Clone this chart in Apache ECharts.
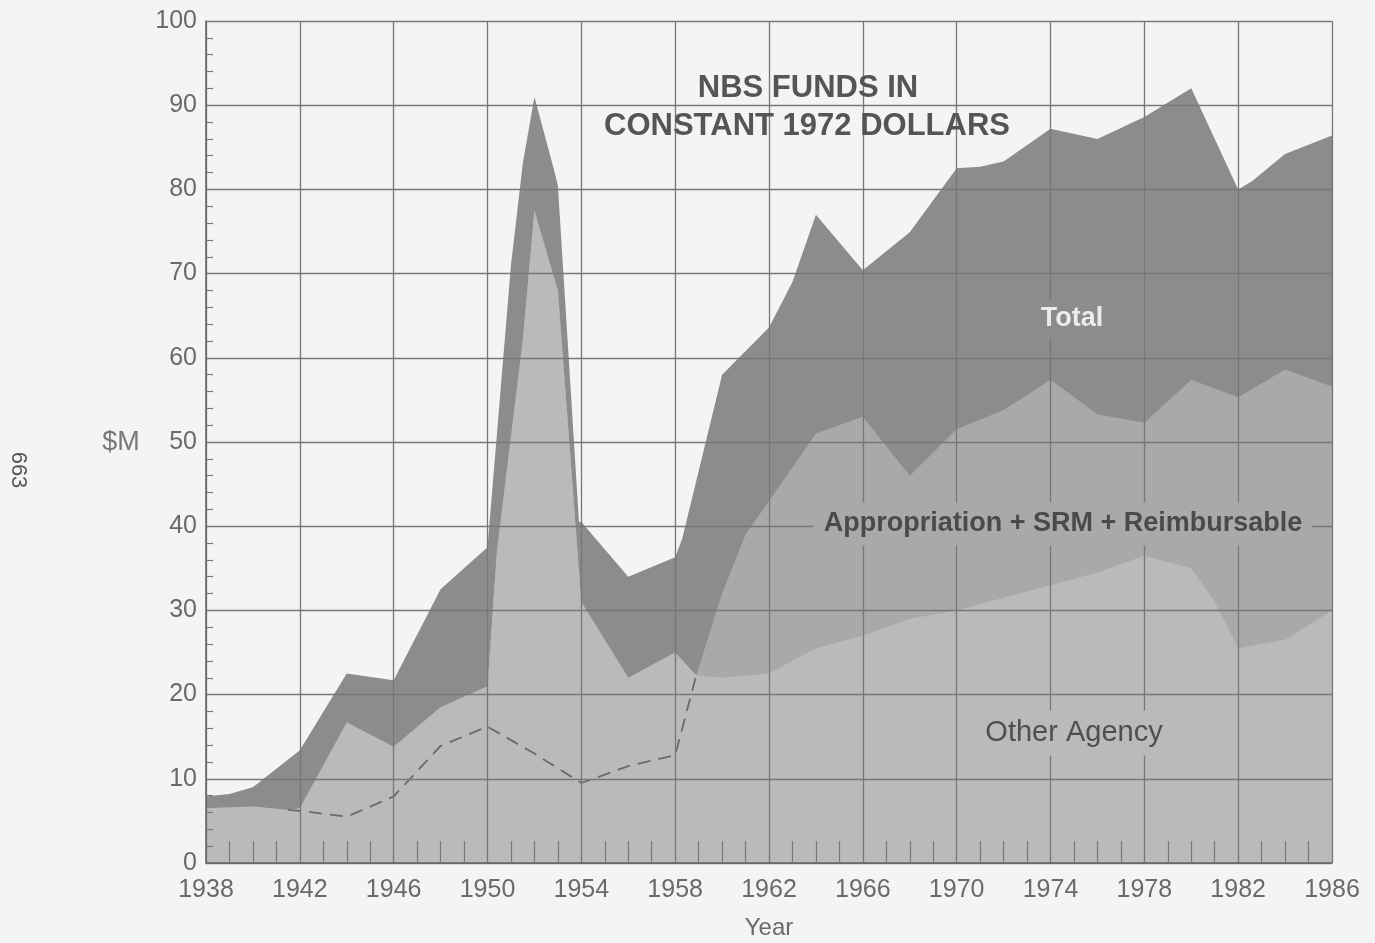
<!DOCTYPE html>
<html>
<head>
<meta charset="utf-8">
<script src="https://cdn.jsdelivr.net/npm/echarts@6/dist/echarts.min.js"></script>
<style>
  html, body { margin: 0; padding: 0; background: #f4f4f4; }
  #chart { width: 1375px; height: 943px; }
</style>
</head>
<body>
<div id="chart"></div>
<script>
// ---------- data ----------
const BASE_YEAR = 1938;
const END_YEAR = 1986;
const X_TICK_LABELS = ['1938','1942','1946','1950','1954','1958','1962','1966','1970','1974','1978','1982','1986'];
const Y_TICK_LABELS = ['0','10','20','30','40','50','60','70','80','90','100'];

// Total (top of dark band)
const TOTAL_YEARS  = [1938, 1939, 1940, 1942, 1944, 1946, 1948, 1950, 1951, 1951.5, 1952, 1952.8, 1953, 1953.9, 1954, 1956, 1958, 1958.3, 1960, 1962, 1963, 1964, 1966, 1968, 1970, 1971, 1972, 1974, 1976, 1978, 1980, 1982, 1982.6, 1984, 1986];
const TOTAL_VALUES = [7.9,  8.2,  9.0,  13.4, 22.5, 21.7, 32.5, 37.5, 71,   83,     91,   82.7,   80.5, 40.5,   40.5, 34,   36.3, 38.5,   58,   63.6, 69,   77,   70.4, 74.9, 82.5, 82.7, 83.3, 87.2, 86,   88.6, 92,   80,   81,     84.2, 86.4];

// Appropriation + SRM + Reimbursable (bottom of dark band)
const APPROP_YEARS  = [1938, 1940, 1941.5, 1942, 1944, 1946, 1948, 1950, 1950.4, 1951.5, 1952, 1953, 1954, 1956, 1958, 1958.9, 1960, 1961, 1962, 1963, 1964, 1966, 1968, 1970, 1972, 1974, 1976, 1978, 1980, 1982, 1984, 1986];
const APPROP_VALUES = [6.5,  6.7,  6.3,    6.5,  16.7, 13.8, 18.5, 21,   37,     62,     77.5, 68,   31,   22,   25,   22.3,   32,   39,   43,   47,   51,   53,   46,   51.5, 53.8, 57.4, 53.3, 52.3, 57.4, 55.3, 58.6, 56.6];

// Other Agency (top of lightest band, from 1959 on)
const OTHER_YEARS  = [1958.9, 1960, 1962, 1964, 1966, 1968, 1970, 1972, 1974, 1976, 1978, 1980, 1981, 1982, 1984, 1986];
const OTHER_VALUES = [22.3,   22,   22.5, 25.5, 27,   29,   30,   31.5, 33,   34.5, 36.5, 35,   31,   25.5, 26.5, 30];

// Other Agency before 1959 (dashed line)
const DASHED_YEARS  = [1941.5, 1942, 1944, 1946, 1948, 1950, 1952, 1954, 1956, 1958, 1958.9];
const DASHED_VALUES = [6.3,    6.2,  5.5,  7.9,  13.9, 16.2, 13,   9.5,  11.5, 12.8, 22.3];

// ---------- build series data ----------
function pairs(years, values) {
  return years.map((y, i) => [y - BASE_YEAR, values[i]]);
}
const totalData  = pairs(TOTAL_YEARS, TOTAL_VALUES);
const appropData = pairs(APPROP_YEARS, APPROP_VALUES);
const SPLIT_YEAR = OTHER_YEARS[0];
const lightData = pairs(
  APPROP_YEARS.filter(y => y < SPLIT_YEAR).concat(OTHER_YEARS),
  APPROP_VALUES.filter((v, i) => APPROP_YEARS[i] < SPLIT_YEAR).concat(OTHER_VALUES)
);
const dashedData = pairs(DASHED_YEARS, DASHED_VALUES);

const C_DARK = '#8c8c8c';
const C_MED = '#a9a9a9';
const C_LIGHT = '#bababa';
const GRID_C = '#777777';
const TEXT_C = '#6a6a6a';
const FONT = '"Liberation Sans", Arial, sans-serif';

const chart = echarts.init(document.getElementById('chart'), null, { renderer: 'canvas' });

function areaSeries(name, data, color, z) {
  return {
    name, type: 'line', data, z,
    symbol: 'none', smooth: false,
    lineStyle: { width: 0, color },
    areaStyle: { color, opacity: 1 },
    silent: true, animation: false
  };
}

chart.setOption({
  backgroundColor: '#f4f4f4',
  animation: false,
  grid: { left: 206, right: 43, top: 21, bottom: 80, show: false, containLabel: false, outerBoundsMode: 'none' },
  xAxis: {
    type: 'value', min: 0, max: END_YEAR - BASE_YEAR, interval: 4, z: 5,
    axisLine: { show: true, lineStyle: { color: '#666', width: 1.5 } },
    axisTick: { show: false, inside: true },
    minorTick: { show: true, splitNumber: 4, length: 22, lineStyle: { color: GRID_C, width: 1.2 } },
    axisLabel: {
      color: TEXT_C, fontFamily: FONT, fontSize: 25, margin: 15,
      formatter: v => X_TICK_LABELS[Math.round(v / 4)]
    },
    splitLine: { show: true, lineStyle: { color: GRID_C, width: 1.3 } },
    name: 'Year', nameLocation: 'middle', nameGap: 53,
    nameTextStyle: { color: TEXT_C, fontFamily: FONT, fontSize: 24 }
  },
  yAxis: {
    type: 'value', min: 0, max: 100, interval: 10, z: 5,
    axisLine: { show: true, lineStyle: { color: '#666', width: 1.5 } },
    axisTick: { show: false, inside: true },
    minorTick: { show: true, splitNumber: 5, length: 7, lineStyle: { color: GRID_C, width: 1.2 } },
    axisLabel: {
      color: TEXT_C, fontFamily: FONT, fontSize: 25, margin: 9,
      formatter: v => Y_TICK_LABELS[Math.round(v / 10)]
    },
    splitLine: { show: true, lineStyle: { color: GRID_C, width: 1.3 } }
  },
  series: [
    areaSeries('Total', totalData, C_DARK, 1),
    areaSeries('Appropriation + SRM + Reimbursable', appropData, C_MED, 2),
    areaSeries('Other Agency', lightData, C_LIGHT, 3),
    {
      name: 'Other Agency (pre-1959)', type: 'line', data: dashedData, z: 4,
      symbol: 'none', silent: true, animation: false,
      lineStyle: { color: '#6a6a6a', width: 1.8, type: [13, 8] }
    }
  ]
});

chart.setOption({
  graphic: [
    { type: 'text', z: 10, style: { text: 'NBS FUNDS IN', x: 808, y: 88, align: 'center', verticalAlign: 'middle',
      fill: '#555', font: 'bold 31px ' + FONT } },
    { type: 'text', z: 10, style: { text: 'CONSTANT 1972 DOLLARS', x: 807, y: 126, align: 'center', verticalAlign: 'middle',
      fill: '#555', font: 'bold 31px ' + FONT } },
    { type: 'text', z: 10, style: { text: 'Total', x: 1072, y: 319, align: 'center', verticalAlign: 'middle',
      fill: '#ececec', font: 'bold 27px ' + FONT, backgroundColor: C_DARK, padding: [6, 8] } },
    { type: 'text', z: 10, style: { text: 'Appropriation + SRM + Reimbursable', x: 1063, y: 524, align: 'center', verticalAlign: 'middle',
      fill: '#4a4a4a', font: 'bold 27px ' + FONT, backgroundColor: C_MED, padding: [8, 10] } },
    { type: 'text', z: 10, style: { text: 'Other Agency', x: 1074, y: 733, align: 'center', verticalAlign: 'middle',
      fill: '#4f4f4f', font: '29px ' + FONT, backgroundColor: C_LIGHT, padding: [8, 8] } },
    { type: 'text', z: 10, style: { text: '$M', x: 121, y: 443, align: 'center', verticalAlign: 'middle',
      fill: '#777', font: '27px ' + FONT } },
    { type: 'text', z: 10, x: 18, y: 470, rotation: -Math.PI / 2, style: { text: '663', x: 0, y: 0, align: 'center', verticalAlign: 'middle',
      fill: '#555', font: '22px ' + FONT } }
  ]
});
</script>
</body>
</html>
